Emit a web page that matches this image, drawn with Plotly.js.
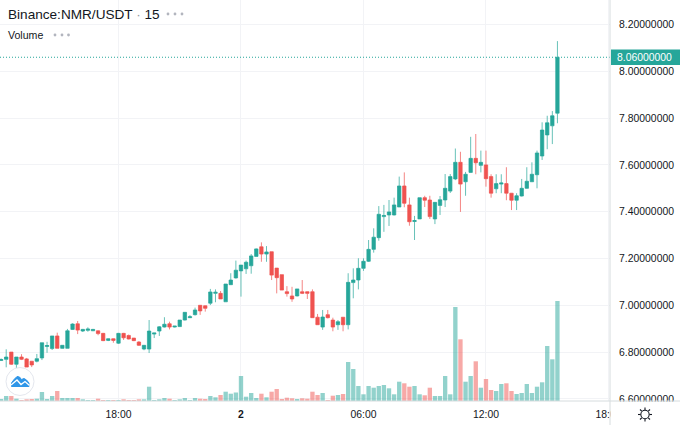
<!DOCTYPE html>
<html>
<head>
<meta charset="utf-8">
<script src="https://cdn.plot.ly/plotly-3.0.1.min.js"></script>
<style>html,body{margin:0;padding:0;background:#fff}#chart{width:680px;height:425px}</style>
</head>
<body>
<div id="chart"></div>
<script>
const firstBar = '2019-07-01T12:15:00Z';
const barMinutes = 15;
const barCount = 110;

const openPrice = [
6.764,6.769,6.800,6.748,6.779,6.771,6.761,6.761,6.775,6.824,
6.815,6.869,6.816,6.816,6.897,6.921,6.890,6.893,6.891,6.891,
6.880,6.850,6.857,6.838,6.880,6.871,6.860,6.843,6.813,6.813,
6.877,6.890,6.907,6.921,6.907,6.909,6.937,6.947,6.960,7.000,
6.998,7.009,7.051,7.051,7.015,7.088,7.117,7.147,7.156,7.169,
7.209,7.250,7.219,7.229,7.159,7.131,7.058,7.040,7.040,7.058,
7.058,7.058,6.949,6.907,6.960,6.937,6.917,6.949,6.917,7.097,
7.108,7.158,7.188,7.239,7.289,7.379,7.386,7.386,7.420,7.510,
7.429,7.358,7.369,7.460,7.450,7.369,7.427,7.450,7.488,7.540,
7.611,7.528,7.568,7.628,7.598,7.600,7.550,7.498,7.518,7.520,
7.479,7.449,7.467,7.500,7.528,7.558,7.638,7.728,7.767,7.821];
const highPrice = [
6.773,6.812,6.800,6.779,6.791,6.775,6.762,6.792,6.840,6.844,
6.869,6.883,6.830,6.899,6.923,6.933,6.899,6.906,6.899,6.892,
6.882,6.858,6.858,6.882,6.882,6.875,6.860,6.847,6.830,6.937,
6.882,6.911,6.949,6.930,6.911,6.937,6.971,6.958,6.990,7.001,
6.999,7.070,7.068,7.061,7.091,7.137,7.191,7.172,7.191,7.219,
7.243,7.269,7.253,7.229,7.159,7.131,7.082,7.079,7.070,7.108,
7.059,7.068,6.963,6.980,6.980,6.947,6.937,6.950,7.137,7.158,
7.201,7.201,7.279,7.329,7.424,7.429,7.450,7.460,7.550,7.568,
7.460,7.382,7.460,7.468,7.468,7.441,7.467,7.561,7.561,7.670,
7.656,7.570,7.720,7.732,7.661,7.661,7.560,7.560,7.560,7.590,
7.480,7.479,7.540,7.590,7.611,7.661,7.782,7.810,7.830,8.129];
const lowPrice = [
6.762,6.735,6.745,6.731,6.766,6.736,6.736,6.756,6.766,6.797,
6.809,6.816,6.815,6.816,6.895,6.877,6.886,6.887,6.890,6.872,
6.847,6.847,6.840,6.835,6.852,6.854,6.847,6.826,6.808,6.796,
6.860,6.869,6.905,6.897,6.905,6.907,6.935,6.946,6.956,6.959,
6.973,7.001,7.013,7.027,7.015,7.087,7.114,7.037,7.134,7.135,
7.209,7.186,7.186,7.108,7.051,7.065,7.037,7.015,7.038,7.048,
7.027,6.946,6.916,6.895,6.944,6.889,6.895,6.889,6.897,7.030,
7.068,7.147,7.185,7.225,7.276,7.314,7.339,7.384,7.420,7.419,
7.340,7.279,7.369,7.420,7.369,7.347,7.386,7.420,7.480,7.535,
7.399,7.468,7.567,7.560,7.568,7.507,7.460,7.479,7.479,7.449,
7.407,7.407,7.465,7.498,7.527,7.500,7.621,7.667,7.689,7.778];
const closePrice = [
6.768,6.779,6.748,6.779,6.769,6.736,6.745,6.772,6.840,6.828,
6.869,6.816,6.829,6.891,6.920,6.894,6.897,6.899,6.897,6.879,
6.849,6.857,6.850,6.880,6.861,6.856,6.849,6.829,6.829,6.890,
6.882,6.908,6.919,6.907,6.911,6.937,6.970,6.951,6.980,6.976,
6.987,7.057,7.056,7.027,7.091,7.108,7.150,7.172,7.184,7.211,
7.241,7.219,7.228,7.129,7.118,7.065,7.050,7.027,7.070,7.051,
7.051,6.947,6.917,6.950,6.947,6.907,6.930,6.917,7.098,7.108,
7.158,7.188,7.239,7.291,7.389,7.384,7.399,7.429,7.510,7.436,
7.357,7.362,7.460,7.449,7.379,7.440,7.451,7.500,7.550,7.611,
7.518,7.560,7.628,7.609,7.611,7.541,7.479,7.520,7.523,7.479,
7.449,7.468,7.500,7.530,7.560,7.651,7.749,7.780,7.810,8.060];
const volume = [
2,5,5,2.3,1,1.7,2,2.3,9,2,
5,10,3,3,3,3,1.7,1,1,2.3,
1,1,1,1,1.7,1,1,1.7,1.7,14.3,
1,1.7,3,2.3,1,1.7,3,1,3,2.3,
2,5,3.7,6,9.3,7.3,8.5,25,4.3,8,
3,7.3,3.7,9.3,12,2,3.3,2.7,2,2.7,
2.3,9.3,6,8,1,5.3,6,7,39,32,
15,6.7,15,13.3,15,16,12.7,6.7,19.3,17.7,
14.3,15,6.7,5.7,13.3,5,5,25,6.7,94,
61.7,19.3,25,39.7,13.3,22,11,10,17,17.7,
10,7,8,17,8,14.3,18.7,55,41.7,100];

const priceTicks = [6.6,6.8,7.0,7.2,7.4,7.6,7.8,8.0,8.2];
const timeTicks = ['2019-07-01T18:00:00Z','2019-07-02T00:00:00Z','2019-07-02T06:00:00Z','2019-07-02T12:00:00Z','2019-07-02T18:00:00Z'];
const timeLabels = ['18:00','<b>2</b>','06:00','12:00','18:00'];
const lastPrice = 8.06;

const UP = '#26a69a', DOWN = '#ef5350';
const times = [];
for (let i = 0; i < barCount; i++) {
  times.push(new Date(Date.parse(firstBar) + i * barMinutes * 60000).toISOString());
}
const volumeColors = closePrice.map((c, i) => c >= openPrice[i] ? 'rgba(38,166,154,0.5)' : 'rgba(239,83,80,0.5)');

// pixel → paper helpers for decorations only (logo, gear, price tag)
const W = 610, H = 401;
const px = x => x / W;
const py = y => 1 - y / H;
const P = (pts, close) => pts.map((p, i) => (i ? 'L' : 'M') + px(p[0]) + ' ' + py(p[1])).join(' ') + (close ? ' Z' : '');
const box = (x0, y0, x1, y1, o) => Object.assign({type: 'rect', xref: 'paper', yref: 'paper', layer: 'above', x0: px(x0), y0: py(y0), x1: px(x1), y1: py(y1), line: {width: 0}}, o);
const oval = (cx, cy, r, o) => Object.assign({type: 'circle', xref: 'paper', yref: 'paper', layer: 'above', x0: px(cx - r), x1: px(cx + r), y0: py(cy + r), y1: py(cy - r), line: {width: 0}}, o);
const seg = (x0, y0, x1, y1, color, width) => ({type: 'line', xref: 'paper', yref: 'paper', layer: 'above', x0: px(x0), y0: py(y0), x1: px(x1), y1: py(y1), line: {color: color, width: width || 1}});

const shapes = [
  {type: 'line', xref: 'paper', yref: 'y2', x0: 0, x1: 1, y0: lastPrice, y1: lastPrice, layer: 'above', line: {color: UP, width: 1, dash: '1px,2px'}},
  box(610.5, 401.5, 680, 425, {fillcolor: '#ffffff'}),
  seg(0, 401, 680, 401, '#d6dcde'),
  seg(610, 0, 610, 425, '#d6dcde'),
  box(611, 49.5, 680, 65, {fillcolor: UP}),
  oval(168, 14, 1.4, {fillcolor: '#b2b5be'}), oval(175, 14, 1.4, {fillcolor: '#b2b5be'}), oval(182, 14, 1.4, {fillcolor: '#b2b5be'}),
  oval(55, 35, 1.4, {fillcolor: '#b2b5be'}), oval(62, 35, 1.4, {fillcolor: '#b2b5be'}), oval(68.5, 35, 1.4, {fillcolor: '#b2b5be'}),
  // logo
  oval(20, 381.5, 14, {fillcolor: '#ffffff', line: {color: '#e4e7ee', width: 1}}),
  {type: 'path', xref: 'paper', yref: 'paper', layer: 'above', fillcolor: '#2f96e8', line: {color: '#2f96e8', width: 1},
   path: P([[11.5,386.5],[11.5,383],[14,379.5],[17,376.5],[19.5,377],[21.5,379.5],[24,378.5],[26.5,380],[29,383],[29,386.5]], true)},
  {type: 'path', xref: 'paper', yref: 'paper', layer: 'above', line: {color: '#ffffff', width: 1.3},
   path: P([[11,385],[17,380],[21,384.5],[25,381.5],[29.5,385.5]])},
  // gear
  oval(645, 414.5, 4.2, {line: {color: '#131722', width: 1.1}})
];
for (const [a, b, c, d] of [[645,407.5,645,410],[645,419,645,421.5],[638,414.5,640.5,414.5],[649.5,414.5,652,414.5],[640,409.5,641.7,411.2],[648.3,417.8,650,419.5],[650,409.5,648.3,411.2],[641.7,417.8,640,419.5]]) {
  shapes.push(seg(a, b, c, d, '#131722', 1.1));
}

const data = [
  {type: 'bar', x: times, y: volume, yaxis: 'y', xaxis: 'x', marker: {color: volumeColors, line: {width: 0}}, hoverinfo: 'skip', showlegend: false},
  {type: 'candlestick', x: times, open: openPrice, high: highPrice, low: lowPrice, close: closePrice, yaxis: 'y2', xaxis: 'x',
   increasing: {line: {color: 'rgba(38,166,154,0.7)', width: 1}, fillcolor: UP},
   decreasing: {line: {color: 'rgba(239,83,80,0.7)', width: 1}, fillcolor: DOWN},
   showlegend: false}
];

const layout = {
  width: 680, height: 425,
  margin: {l: 0, r: 70, t: 0, b: 24, pad: 0},
  paper_bgcolor: '#ffffff', plot_bgcolor: '#ffffff',
  font: {family: '"Liberation Sans", Arial, sans-serif', color: '#131722', size: 10.4},
  title: {
    text: 'Binance:NMR/USDT <span style="color:#9598a1">·</span> 15',
    xref: 'container', yref: 'container', x: 8 / 680, xanchor: 'left', y: 1 - 14 / 425, yanchor: 'middle',
    font: {family: '"Liberation Sans", Arial, sans-serif', size: 13.6, color: '#131722'}, pad: {l: 0, r: 0, t: 0, b: 0}
  },
  bargap: 0.15,
  boxgap: 0.05,
  xaxis: {
    type: 'date',
    range: ['2019-07-01T12:11:46Z', '2019-07-02T18:04:30Z'],
    tickmode: 'array', tickvals: timeTicks, ticktext: timeLabels,
    showgrid: true, gridcolor: '#f2f3f6', gridwidth: 1, zeroline: false,
    ticks: 'outside', ticklen: 4, tickcolor: 'rgba(255,255,255,0)',
    tickfont: {size: 10.4, color: '#131722'},
    rangeslider: {visible: false}, fixedrange: true, showline: false
  },
  yaxis: {
    range: [0, 401], visible: false, showgrid: false, zeroline: false, fixedrange: true
  },
  yaxis2: {
    overlaying: 'y', side: 'right', anchor: 'x',
    range: [6.591, 8.3047],
    tickmode: 'array', tickvals: priceTicks, tickformat: '.8f',
    showgrid: true, gridcolor: '#f2f3f6', gridwidth: 1, zeroline: false,
    ticks: 'outside', ticklen: 6, tickcolor: 'rgba(255,255,255,0)',
    tickfont: {size: 10.4, color: '#131722'},
    fixedrange: true, showline: false
  },
  hovermode: false,
  shapes: shapes,
  annotations: [
    {xref: 'paper', yref: 'paper', x: px(7), y: py(35), xanchor: 'left', yanchor: 'middle', showarrow: false, borderpad: 0, text: 'Volume', font: {size: 10.6, color: '#131722'}},
    {xref: 'paper', yref: 'y2', x: px(644.5), y: lastPrice, xanchor: 'center', yanchor: 'middle', showarrow: false, borderpad: 0, text: '8.06000000', font: {size: 10.4, color: '#ffffff'}}
  ]
};
Plotly.newPlot('chart', data, layout, {displayModeBar: false, staticPlot: true});
</script>
</body>
</html>
